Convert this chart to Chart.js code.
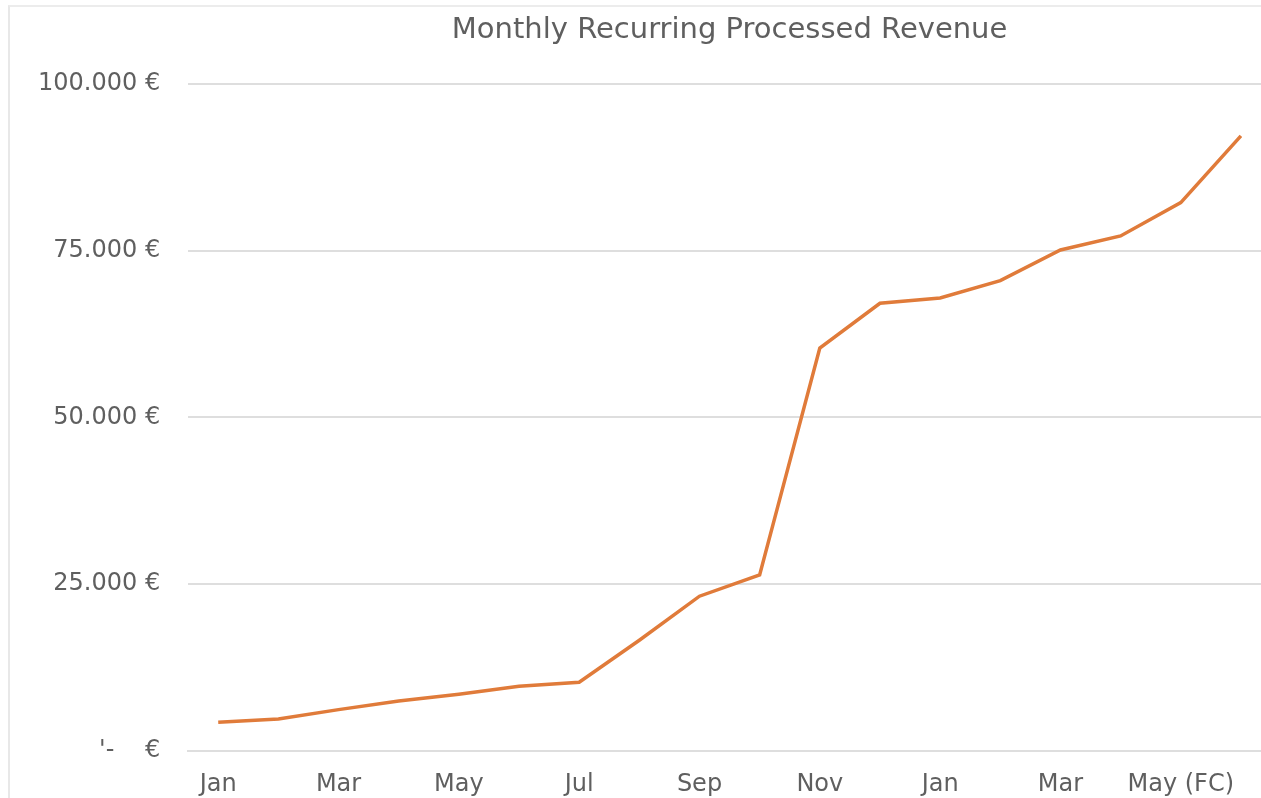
<!DOCTYPE html>
<html>
<head>
<meta charset="utf-8">
<script src="https://cdn.jsdelivr.net/npm/chart.js@4"></script>
<style>
  html, body { margin: 0; padding: 0; background: #fff; overflow: hidden; }
  #frame {
    position: absolute; left: 8px; top: 5px; width: 1253px; height: 793px;
    border-left: 2px solid #e8e8e8; border-top: 2px solid #ececec;
    box-sizing: border-box;
  }
  /* the reference plot runs a little past the right edge of the image, so the canvas is wider and clipped */
  #wrap { position: absolute; left: 0; top: 0; width: 1261px; height: 798px; overflow: hidden; }
</style>
</head>
<body>
<div id="frame"></div>
<div id="wrap"><canvas id="chart" width="1272" height="798"></canvas></div>
<script>
const months = ['Jan', 'Feb', 'Mar', 'Apr', 'May', 'Jun', 'Jul', 'Aug', 'Sep', 'Oct', 'Nov', 'Dec',
                'Jan', 'Feb', 'Mar', 'Apr', 'May (FC)', 'Jun (FC)'];
const revenue = [4300, 4800, 6200, 7500, 8500, 9700, 10300, 16600, 23200, 26400, 60400, 67100,
                 67900, 70500, 75100, 77200, 82200, 92200];
const yTicks = [0, 25000, 50000, 75000, 100000];

const textColor = '#5f5f5f';
const gridColor = '#dedede';
const fontFamily = '"DejaVu Sans", sans-serif';

function euro(v) {
  if (v === 0) return "'-    €";
  return v.toLocaleString('de-DE') + ' €';
}

new Chart(document.getElementById('chart'), {
  type: 'line',
  data: {
    labels: months,
    datasets: [{
      label: 'MRR',
      data: revenue,
      borderColor: '#e07b3a',
      borderWidth: 3.5,
      pointRadius: 0,
      tension: 0,
      fill: false
    }]
  },
  options: {
    responsive: false,
    animation: false,
    layout: { padding: { left: 10, right: 1, top: 13, bottom: 2 } },
    plugins: {
      legend: { display: false },
      tooltip: { enabled: false },
      title: {
        display: true,
        text: 'Monthly Recurring Processed Revenue',
        fullSize: false,
        color: textColor,
        font: { family: fontFamily, size: 29, weight: 'normal' },
        padding: { top: 0, bottom: 36 }
      }
    },
    scales: {
      x: {
        offset: true,
        grid: { display: false, drawTicks: false },
        border: { display: true, color: gridColor, width: 2 },
        afterFit: axis => { axis.height = 45; },
        ticks: {
          autoSkip: false,
          maxRotation: 0,
          padding: 19,
          color: textColor,
          font: { family: fontFamily, size: 24 },
          callback: (val, i) => (i % 2 === 0 ? months[i] : '')
        }
      },
      y: {
        min: 0,
        max: 100000,
        afterBuildTicks: axis => { axis.ticks = yTicks.map(v => ({ value: v })); },
        grid: { color: gridColor, lineWidth: 2, drawTicks: false },
        border: { display: false },
        ticks: {
          padding: 28,
          color: textColor,
          font: { family: fontFamily, size: 24 },
          callback: v => euro(v)
        }
      }
    }
  }
});
</script>
</body>
</html>
